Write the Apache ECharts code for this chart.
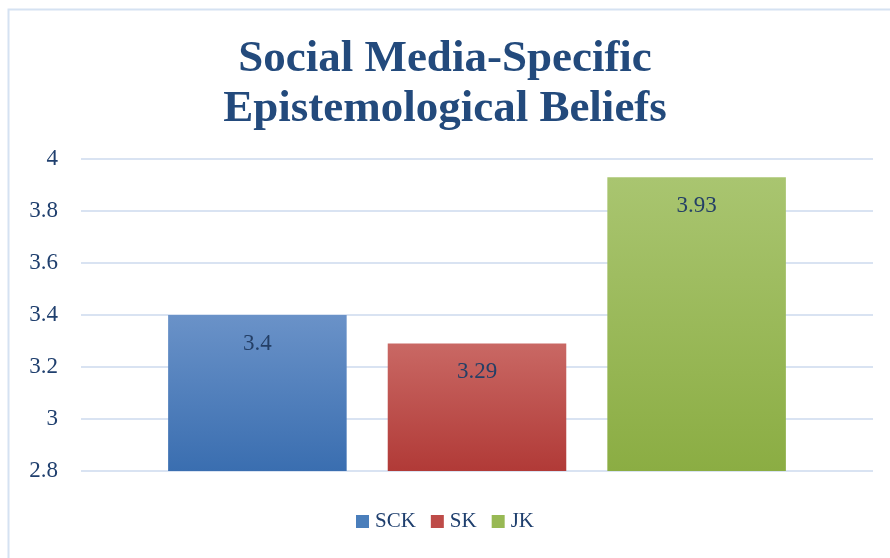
<!DOCTYPE html>
<html>
<head>
<meta charset="utf-8">
<script src="https://cdn.jsdelivr.net/npm/echarts@6/dist/echarts.min.js"></script>
<style>html,body{margin:0;padding:0;background:#fff}#c{width:890px;height:558px}</style>
</head>
<body>
<div id="c"></div>
<script>
const category = ['Social Media-Specific Epistemological Beliefs'];
const seriesNames = ['SCK', 'SK', 'JK'];
const sckValues = [3.4];
const skValues = [3.29];
const jkValues = [3.93];
const yTicks = [2.8, 3, 3.2, 3.4, 3.6, 3.8, 4];

const FONT = '"Liberation Serif", serif';
const TEXT = '#1F3F6E';
function grad(top, bottom) {
  return new echarts.graphic.LinearGradient(0, 0, 0, 1, [
    { offset: 0, color: top }, { offset: 1, color: bottom }
  ]);
}
const colors = [
  grad('#6A92C8', '#3A6EB0'),
  grad('#C96864', '#B13A37'),
  grad('#A9C570', '#8BAD43')
];
const legendColors = ['#4A7EBB', '#BE4B48', '#98B954'];
const values = [sckValues, skValues, jkValues];

const chart = echarts.init(document.getElementById('c'), null, { renderer: 'canvas' });
chart.setOption({
  backgroundColor: '#fff',
  animation: false,
  graphic: [{
    type: 'rect', left: 6, top: 7, z: -10,
    shape: { width: 900, height: 600 },
    style: { fill: 'none', stroke: '#D5E2F2', lineWidth: 2 }
  }],
  title: {
    text: 'Social Media-Specific\nEpistemological Beliefs',
    left: 'center', top: 29,
    textStyle: {
      fontFamily: '"Liberation Serif", serif', fontWeight: 'bold',
      fontSize: 45, lineHeight: 50, color: '#234A7C'
    }
  },
  legend: {
    bottom: 21, left: 'center',
    itemWidth: 13, itemHeight: 13, itemGap: 15,
    icon: 'rect',
    data: seriesNames.map((n, i) => ({ name: n, itemStyle: { color: legendColors[i] } })),
    textStyle: { fontFamily: FONT, fontSize: 21, color: TEXT, padding: [0, 0, 0, 1] }
  },
  grid: { left: 81, right: 17, top: 159, bottom: 87, containLabel: false },
  xAxis: {
    type: 'category', data: category,
    axisLine: { show: false }, axisTick: { show: false }, axisLabel: { show: false }
  },
  yAxis: {
    type: 'value', min: 2.8, max: 4, interval: 0.2,
    axisLine: { show: false }, axisTick: { show: false },
    axisLabel: {
      margin: 23, fontFamily: FONT, fontSize: 23, color: TEXT,
      formatter: v => String(+v.toFixed(1))
    },
    splitLine: { lineStyle: { color: '#D9E3F2', width: 2 } }
  },
  series: seriesNames.map((n, i) => ({
    name: n, type: 'bar', data: values[i],
    barGap: '23%', barCategoryGap: '22%',
    itemStyle: { color: colors[i] },
    label: {
      show: true, position: 'insideTop', distance: 17,
      fontFamily: FONT, fontSize: 23, color: '#243F66',
      formatter: p => String(p.value)
    }
  }))
});
</script>
</body>
</html>
